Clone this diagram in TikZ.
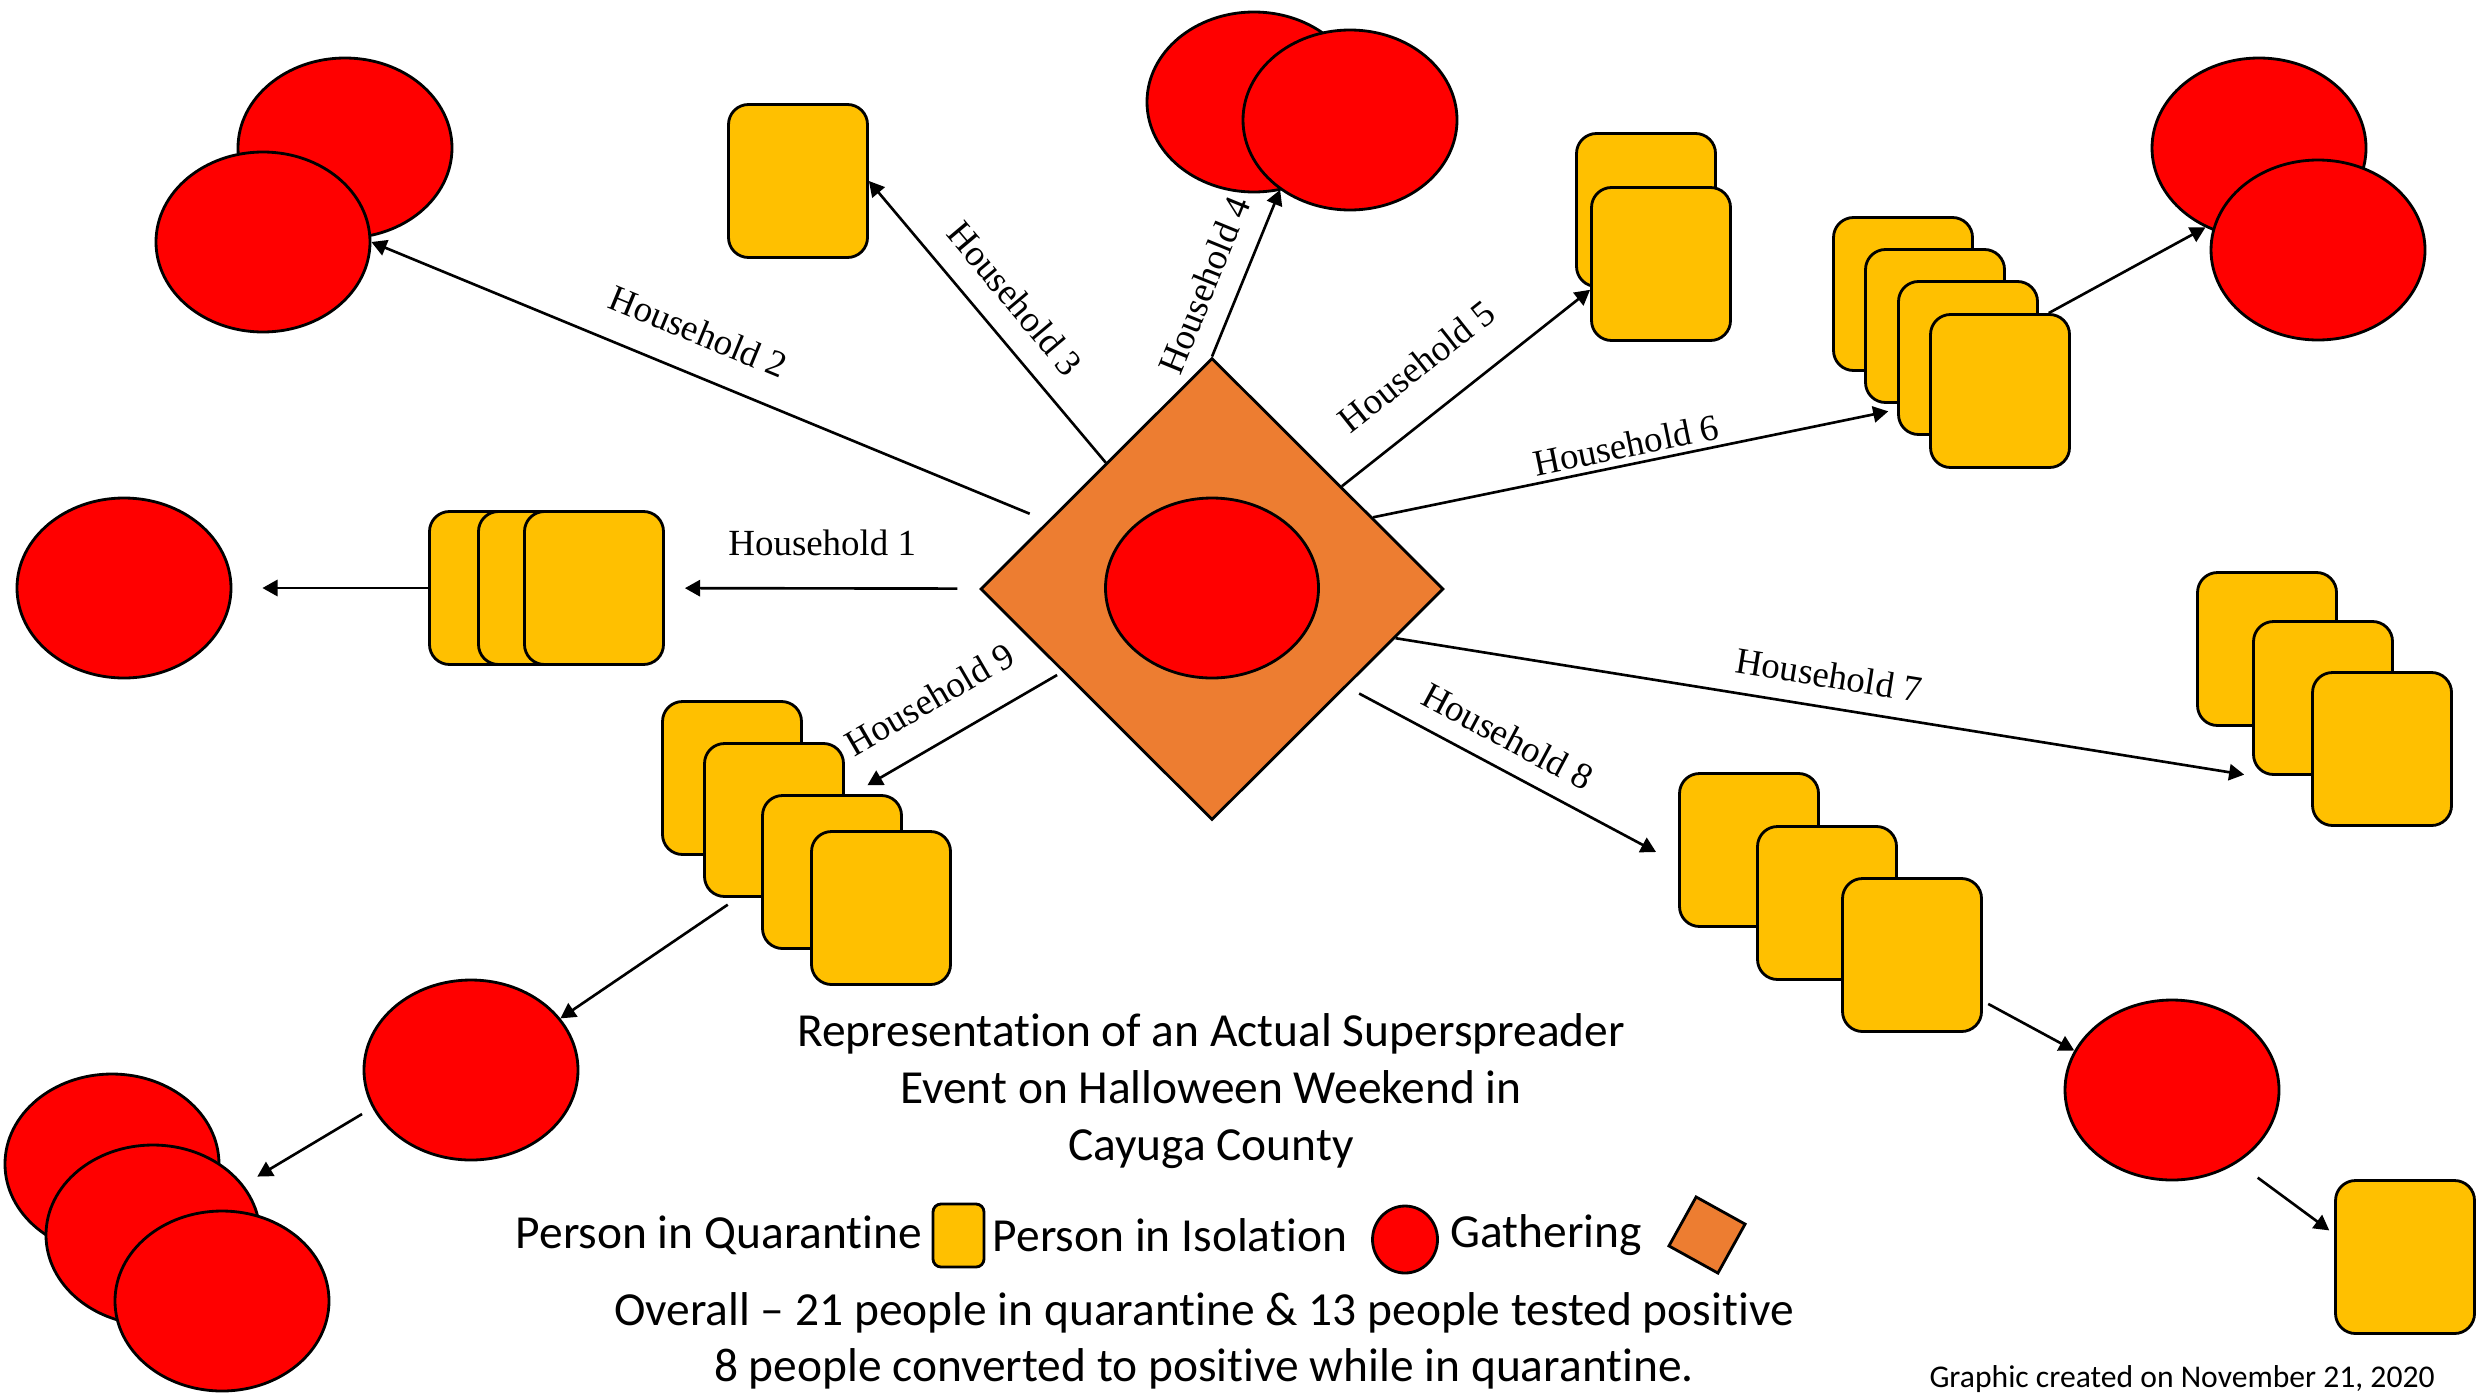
\documentclass[tikz,border=0pt]{standalone}
\usepackage{fontspec}
\setmainfont{Liberation Serif}
\newfontfamily\calibri[Ligatures=NoCommon]{Carlito}
\usetikzlibrary{shapes.geometric,arrows.meta}
\definecolor{QuarYellow}{HTML}{FFC000}
\definecolor{IsoRed}{HTML}{FF0000}
\definecolor{GatherOrange}{HTML}{ED7D31}
\tikzset{
    person/.style={rectangle, draw, line width=0.8pt, fill=QuarYellow,
                rounded corners=0.2cm, minimum width=1.39cm,
                minimum height=1.53cm, inner sep=0},
    sick/.style={ellipse, draw, line width=0.8pt, fill=IsoRed,
                minimum width=2.14cm, minimum height=1.80cm, inner sep=0},
    gathering/.style={diamond, draw, line width=0.8pt, fill=GatherOrange,
                minimum width=4.63cm, minimum height=4.62cm, inner sep=0},
    arr/.style={-{Triangle[length=4.3pt, width=4.6pt]}, line width=0.75pt},
    hh/.style={font=\fontsize{10.5}{12}\selectfont, inner sep=0, sloped},
    calstyle/.style={font=\calibri\fontsize{13.5}{16.2}\selectfont, inner sep=0},
}

\begin{document}
\begin{tikzpicture}
        \useasboundingbox (0,0) rectangle (24.83,-13.97);
        % Gathering
        \node[gathering] (G) at (12.12,-5.89) {};
        \node[sick, minimum width=2.13cm] (Gc) at (12.12,-5.88) {};
        %
        % Household 1
        \node[sick] (H1s) at (1.24,-5.88) {};
        \node[person] (H1p1) at (4.99,-5.88) {};
        \node[person] (H1p2) at (5.48,-5.88) {};
        \node[person] (H1p3) at (5.94,-5.88) {};
        %
        % Household 2
        \node[sick] (H2b) at (3.45,-1.48) {};
        \node[sick] (H2f) at (2.63,-2.42) {};
        %
        % Household 3
        \node[person] (H3p) at (7.98,-1.81) {};
        %
        % Household 4
        \node[sick] (H4b) at (12.54,-1.02) {};
        \node[sick] (H4f) at (13.50,-1.20) {};
        %
        % Household 5
        \node[person] (H5p1) at (16.46,-2.10) {};
        \node[person] (H5p2) at (16.61,-2.64) {};
        %
        % Household 6
        \node[person] (H6p1) at (19.03,-2.94) {};
        \node[person] (H6p2) at (19.35,-3.26) {};
        \node[person] (H6p3) at (19.68,-3.58) {};
        \node[person] (H6p4) at (20.00,-3.91) {};
        \node[sick] (H6b) at (22.59,-1.48) {};
        \node[sick] (H6f) at (23.18,-2.50) {};
        %
        % Household 7
        \node[person] (H7p1) at (22.67,-6.49) {};
        \node[person] (H7p2) at (23.23,-6.98) {};
        \node[person] (H7p3) at (23.82,-7.49) {};
        %
        % Household 8
        \node[person] (H8p1) at (17.49,-8.50) {};
        \node[person] (H8p2) at (18.27,-9.03) {};
        \node[person] (H8p3) at (19.12,-9.55) {};
        \node[sick] (H8s) at (21.72,-10.90) {};
        \node[person] (H8p4) at (24.05,-12.57) {};
        %
        % Household 9
        \node[person] (H9p1) at (7.32,-7.78) {};
        \node[person] (H9p2) at (7.74,-8.20) {};
        \node[person] (H9p3) at (8.32,-8.72) {};
        \node[person] (H9p4) at (8.81,-9.08) {};
        \node[sick] (H9s) at (4.71,-10.70) {};
        \node[sick] (H9s1) at (1.12,-11.64) {};
        \node[sick] (H9s2) at (1.53,-12.35) {};
        \node[sick] (H9s3) at (2.22,-13.01) {};
        %
        %
        % Arrows out of the gathering
        \draw[arr, shorten <=0.22cm, shorten >=0.2cm] (G) -- (H1p3)
            node[hh, pos=0.5, above=0.31cm] {Household 1};
        \draw[arr, shorten >=0.3cm] (H1p1.west) -- (H1s.east);
        \draw[arr, shorten <=0.19cm] (G) -- (H2f.east)
            node[hh, pos=0.54, above=0.28cm] {Household 2};
        \draw[arr] (G) -- (H3p.east)
            node[hh, pos=0.5, above=0.22cm] {Household 3};
        \draw[arr] (G.north) -- (H4f.225)
            node[hh, pos=0.35, above=0.2cm] {Household 4};
        \draw[arr] (G) -- (H5p2.200)
            node[hh, pos=0.42, above=0.335cm] {Household 5};
        \draw[arr, shorten >=0.09cm] (G.24) -- (H6p3.216)
            node[hh, pos=0.49, above=0.055cm] {Household 6};
        \draw[arr] (H6p4.58) -- (H6b.236);
        \draw[arr, shorten >=0.08cm] (G.-15) -- (H7p2.south west)
            node[hh, pos=0.5, above=0.18cm] {Household 7};
        \draw[arr, shorten <=0.14cm, shorten >=0.25cm] (G.-36) -- (H8p1.191)
            node[hh, pos=0.44, above=0.18cm] {Household 8};
        \draw[arr, shorten <=0.06cm] (H8p3.-33) -- (H8s.158);
        \draw[arr, shorten <=0.25cm, shorten >=0.06cm] (H8s.-48) -- (H8p4.162);
        \draw[arr, shorten <=0.06cm, shorten >=0.26cm] (G.209) -- (H9p2.17)
            node[hh, pos=0.51, above=0.29cm] {Household 9};
        \draw[arr, shorten <=0.12cm] (H9p2.-115) -- (H9s.30);
        \draw[arr, shorten <=0.12cm, shorten >=0.16cm] (H9s.201) -- (H9s2.29);
        %
        %
        % Title and legend
        \node[calstyle, align=center] (title) at (12.11,-10.91)
            {Representation of an Actual Superspreader\\Event on Halloween Weekend in\\Cayuga County};
        \node[calstyle] (Lq) at (7.19,-12.35) {Person in Quarantine};
        \node[person, minimum width=0.51cm, minimum height=0.63cm,
              rounded corners=0.08cm] (Lqbox) at (9.585,-12.355) {};
        \node[calstyle] (Li) at (11.70,-12.35) {Person in Isolation};
        \node[sick, minimum width=0.65cm, minimum height=0.67cm] (Liell) at (14.05,-12.395) {};
        \node[calstyle] (Lg) at (15.46,-12.35) {Gathering};
        \node[rectangle, draw, line width=0.8pt, fill=GatherOrange, minimum size=0.56cm,
              inner sep=0, rotate=-29] (Lgdia) at (17.07,-12.35) {};
        \node[calstyle] (over1) at (12.04,-13.13)
            {Overall – 21 people in quarantine \& 13 people tested positive};
        \node[calstyle] (over2) at (12.04,-13.69)
            {8 people converted to positive while in quarantine.};
        \node[calstyle, font=\calibri\fontsize{9}{11}\selectfont] (made) at (21.82,-13.79)
            {Graphic created on November 21, 2020};
    \end{tikzpicture}
\end{document}
